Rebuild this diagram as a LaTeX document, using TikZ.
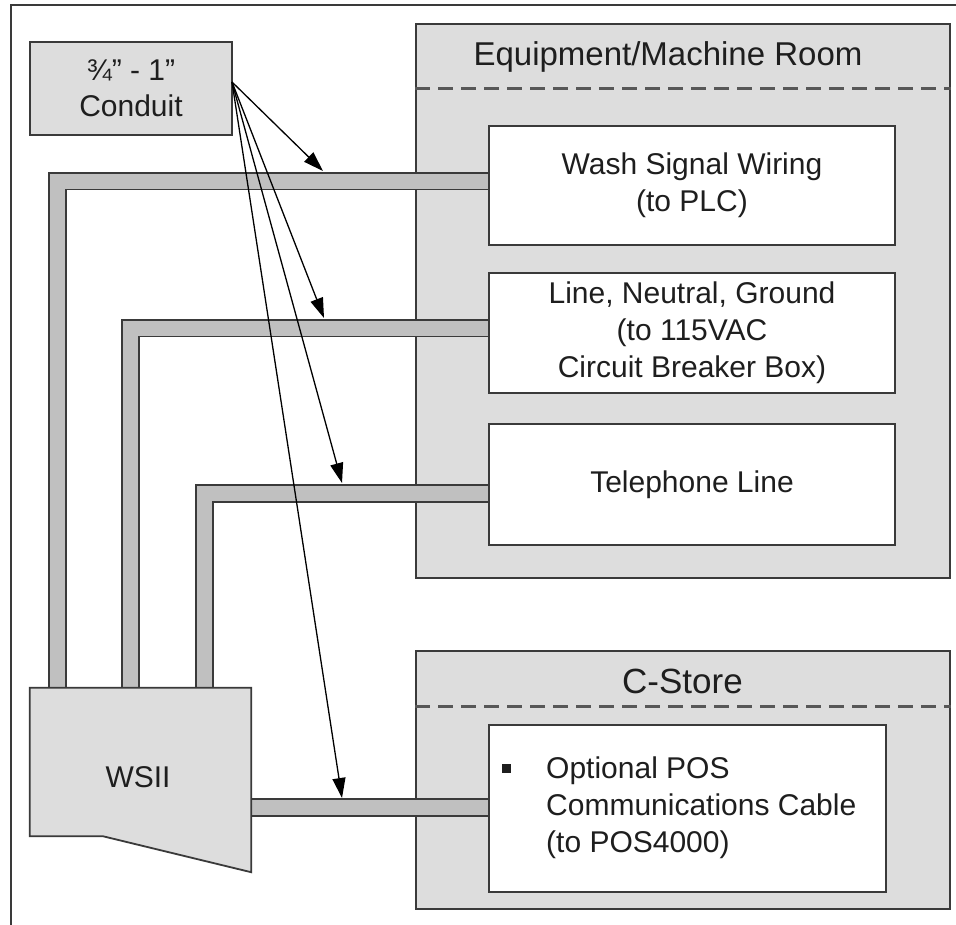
\documentclass[tikz,border=0pt]{standalone}
\usepackage{fontspec}
\setmainfont{Liberation Sans}
\usetikzlibrary{arrows.meta,calc}
\pgfdeclarelayer{bg}
\pgfdeclarelayer{pipes}
\pgfsetlayers{bg,pipes,main}
\definecolor{roomgray}{HTML}{DDDDDD}
\definecolor{pipegray}{HTML}{C0C0C0}
\definecolor{edge}{HTML}{3A3A3A}
\definecolor{dashgray}{HTML}{575757}
\definecolor{txt}{HTML}{1E1E1E}
\begin{document}
\begin{tikzpicture}[x=1pt,y=-1pt,
  box/.style={draw=edge, line width=1.8pt, inner sep=0pt, text=txt},
  room/.style={box, fill=roomgray},
  inbox/.style={box, fill=white, align=center, font=\fontsize{30}{37}\selectfont},
  title/.style={text=txt, inner sep=0pt, anchor=base},
  divider/.style={draw=dashgray, dash pattern=on 15pt off 8pt, line width=3pt},
  pipe/.style={draw=edge, line width=1.8pt, double=pipegray, double distance=15pt, line join=miter, shorten <=-2pt, shorten >=-2pt},
  feed/.style={draw=black, line width=1.3pt, -{Triangle[length=20pt,width=13pt]}},
  lbl/.style={text=txt, font=\fontsize{30}{37}\selectfont, inner sep=0pt}
]
\useasboundingbox (0,0) rectangle (956,924);

% rooms
\begin{pgfonlayer}{bg}
\fill[white] (0,0) rectangle (956,924);
\draw[edge, line width=1.8pt] (11,5) rectangle (975,945);
\node[room, minimum width=534pt, minimum height=554pt] (eq) at (683,301) {};
\node[room, minimum width=534pt, minimum height=258pt] (cs) at (683,780) {};
\draw[divider] (eq.west |- 0,88) -- (eq.east |- 0,88);
\draw[divider] (cs.west |- 0,706) -- (cs.east |- 0,706);
\end{pgfonlayer}
\node[title, font=\fontsize{33}{40}\selectfont] (eqtitle) at (668,65) {Equipment/Machine Room};
\node[title, font=\fontsize{35}{42}\selectfont] (cstitle) at (682.5,693) {C-Store};

% inner boxes
\node[inbox, minimum width=406pt, minimum height=119pt] (wash) at (692,185.5) {Wash Signal Wiring\\(to PLC)};
\node[inbox, minimum width=406pt, minimum height=120pt] (lng) at (692,333) {Line, Neutral, Ground\\(to 115VAC\\Circuit Breaker Box)};
\node[inbox, minimum width=406pt, minimum height=121pt] (tel) at (692,484.5) {Telephone Line};
\node[inbox, minimum width=397pt, minimum height=167pt] (pos) at (687.5,808.5) {};
\node[fill=txt, minimum size=9pt, inner sep=0pt] (bullet) at (506,768) {};
\node[lbl, align=left, anchor=west] (postext) at (546,808) {Optional POS\\Communications Cable\\(to POS4000)};

% conduit label
\node[room, minimum width=202pt, minimum height=93pt, align=center, font=\fontsize{30}{36}\selectfont] (conduit) at (131,88.5) {¾" - 1"\\Conduit};

% WSII
\node[inner sep=0pt, minimum width=221pt, minimum height=148pt] (wsii) at (140.5,762) {};
\draw[edge, line width=1.8pt, fill=roomgray] (wsii.north west) -- (wsii.north east) -- ($(wsii.south east)+(0,36)$) -- ($(wsii.south west)+(73,0)$) -- (wsii.south west) -- cycle;
\node[lbl] (wsiilabel) at (138,777) {WSII};

% pipes
\coordinate (p1) at (57.5,181);
\coordinate (p2) at (130.5,328);
\coordinate (p3) at (204.5,493.5);
\coordinate (p4) at (300,807.5);
\begin{pgfonlayer}{pipes}
\draw[pipe] (wsii.north -| p1) |- (wash.west |- p1);
\draw[pipe] (wsii.north -| p2) |- (lng.west |- p2);
\draw[pipe] (wsii.north -| p3) |- (tel.west |- p3);
\draw[pipe] (wsii.east |- p4) -- (pos.west |- p4);
\end{pgfonlayer}

% conduit arrows
\coordinate (src) at (232,82);
\coordinate (a1) at (323,171);
\coordinate (a2) at (324,318);
\coordinate (a3) at (342,483);
\coordinate (a4) at (342,798);
\draw[feed] (src) -- (a1);
\draw[feed] (src) -- (a2);
\draw[feed] (src) -- (a3);
\draw[feed] (src) -- (a4);
\end{tikzpicture}
\end{document}
